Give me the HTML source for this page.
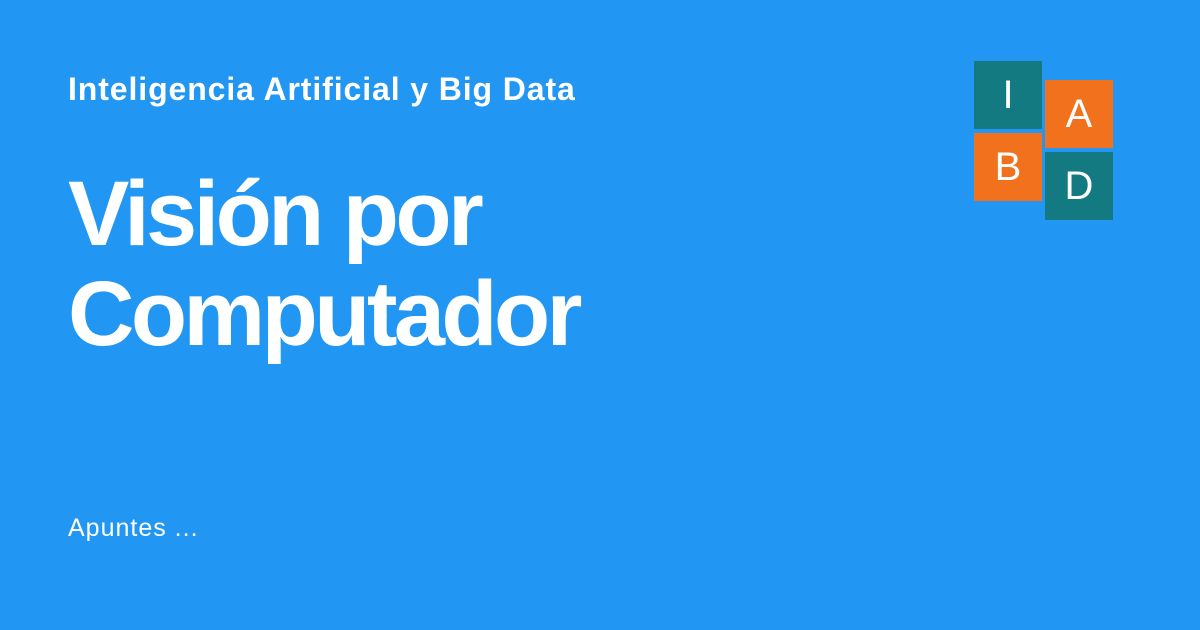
<!DOCTYPE html>
<html><head><meta charset="utf-8"><style>
body{margin:0;width:1200px;height:630px;background:#2196f3;font-family:"Liberation Sans",sans-serif;color:#fff;position:relative;overflow:hidden}
.t{position:absolute;left:68px;white-space:nowrap}
.box{position:absolute;width:68px;height:68px;display:flex;align-items:center;justify-content:center;font-size:40px;font-weight:300;color:#fff}
.teal{background:#127a80}.org{background:#f1711c}
</style></head><body>
<div class="t" style="top:71px;font-size:32px;font-weight:bold;letter-spacing:0.9px">Inteligencia Artificial y Big Data</div>
<div class="t" style="top:164px;font-size:92px;font-weight:bold;line-height:100px;letter-spacing:-3.6px">Visión por<br>Computador</div>
<div class="t" style="top:514px;font-size:25px;letter-spacing:1px">Apuntes ...</div>
<div>
<div class="box teal" style="left:974px;top:61px">I</div>
<div class="box org" style="left:974px;top:133px">B</div>
<div class="box org" style="left:1045px;top:80px">A</div>
<div class="box teal" style="left:1045px;top:152px">D</div>
</div>
</body></html>
